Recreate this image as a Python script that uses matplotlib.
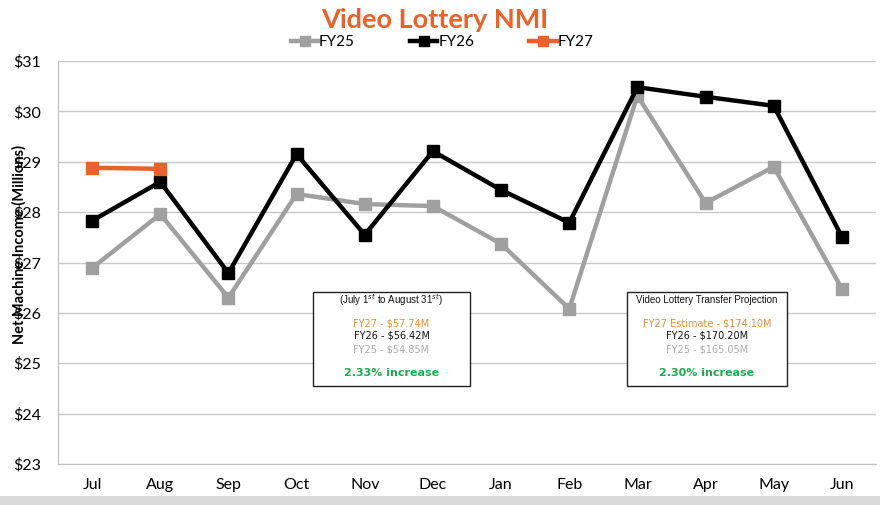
import matplotlib
matplotlib.use("Agg")
import matplotlib.pyplot as plt
from matplotlib.patches import Rectangle

months = ["Jul", "Aug", "Sep", "Oct", "Nov", "Dec", "Jan", "Feb", "Mar", "Apr", "May", "Jun"]
fy25 = [26.89, 27.96, 26.30, 28.36, 28.16, 28.12, 27.37, 26.08, 30.31, 28.18, 28.90, 26.48]
fy26 = [27.83, 28.60, 26.79, 29.15, 27.55, 29.21, 28.44, 27.79, 30.48, 30.29, 30.11, 27.51]
fy27 = [28.88, 28.86]
yticks = [23, 24, 25, 26, 27, 28, 29, 30, 31]

box1_lines = ["(July 1$^{st}$ to August 31$^{st}$)", "FY27 - $57.74M", "FY26 - $56.42M", "FY25 - $54.85M", "2.33% increase"]
box2_lines = ["Video Lottery Transfer Projection", "FY27 Estimate - $174.10M", "FY26 - $170.20M", "FY25 - $165.05M", "2.30% increase"]

C25 = "#A0A0A0"
C26 = "#000000"
C27 = "#E8622A"
CTXT27 = "#E0913F"
CGREEN = "#1FA850"

fig = plt.figure(figsize=(8.8, 5.05), dpi=100)
fig.patch.set_facecolor("white")
# bottom grey band
fig.patches.append(Rectangle((0, 0), 1, 9/505, transform=fig.transFigure, facecolor="#DADADA", edgecolor="none", zorder=0))

ax = fig.add_axes([58/880, 1-464/505, (876-58)/880, (464-61)/505])
x = list(range(len(months)))
ax.plot(x, fy25, color=C25, lw=3.2, marker="s", ms=9, label="FY25", zorder=3)
ax.plot(x, fy26, color=C26, lw=3.2, marker="s", ms=9, label="FY26", zorder=4)
ax.plot(x[:len(fy27)], fy27, color=C27, lw=3.2, marker="s", ms=9, label="FY27", zorder=5)

ax.set_xlim(-0.5, len(months)-0.5)
ax.set_ylim(23, 31)
ax.set_yticks(yticks)
ax.set_yticklabels([f"${v}" for v in yticks], fontsize=11.5, family="Lato")
ax.set_xticks(x)
ax.set_xticklabels(months, fontsize=11.5, family="Lato")
ax.tick_params(axis="both", length=0)
ax.tick_params(axis="x", pad=10)
ax.tick_params(axis="y", pad=12)
ax.grid(axis="y", color="#C8C8C8", lw=1)
ax.set_axisbelow(True)
for s in ["top", "right"]:
    ax.spines[s].set_visible(False)
ax.spines["left"].set_color("#BFBFBF")
ax.spines["bottom"].set_color("#BFBFBF")
ax.set_ylabel("Net Machine Income (Millions)", fontsize=10.5, fontweight="bold", family="Lato")
ax.yaxis.set_label_coords(-0.039, 0.545)

fig.text(435/880, 1-20/505, "Video Lottery NMI", ha="center", va="center", fontsize=19.5, fontweight="bold", color=C27, family="Lato")
leg = fig.legend(loc="center", bbox_to_anchor=(442/880, 1-42/505), ncol=3, frameon=False,
                 handlelength=1.8, handletextpad=0.05, columnspacing=3.6, markerscale=0.8,
                 prop={"family": "Lato", "size": 11})

def draw_box(x0, y0, x1, y1, lines):
    fig.patches.append(Rectangle((x0/880, 1-y1/505), (x1-x0)/880, (y1-y0)/505, transform=fig.transFigure,
                                 facecolor="white", edgecolor="#222222", lw=1.0, zorder=10))
    cx = (x0+x1)/2/880
    ys = [300, 323, 336, 349, 373]
    colors = ["#111111", CTXT27, "#111111", "#AAAAAA", CGREEN]
    weights = ["normal", "normal", "normal", "normal", "bold"]
    sizes = [7, 7, 7, 7, 8]
    fams = ["Liberation Sans", "DejaVu Sans", "DejaVu Sans", "DejaVu Sans", "DejaVu Sans"]
    for t, yy, c, w, s, f in zip(lines, ys, colors, weights, sizes, fams):
        fig.text(cx, 1-yy/505, t, ha="center", va="center", color=c, fontweight=w, fontsize=s, family=f, zorder=11)

draw_box(313, 292, 470, 386, box1_lines)
draw_box(627, 292, 787, 386, box2_lines)

fig.savefig("out.png", dpi=100)
